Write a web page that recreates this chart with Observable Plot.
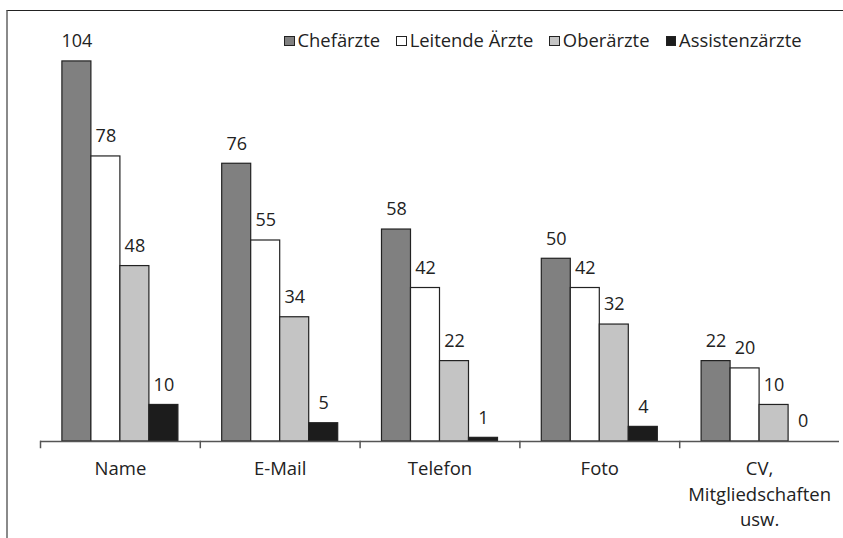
<!DOCTYPE html>
<html><head><meta charset="utf-8">
<script src="https://cdn.jsdelivr.net/npm/d3@7"></script>
<script src="https://cdn.jsdelivr.net/npm/@observablehq/plot@0.6"></script>
<style>
body{margin:0;background:#fff;font-family:"Open Sans",sans-serif;}
#wrap{position:relative;width:843px;height:538px;overflow:hidden;background:#fff}
#border{position:absolute;left:6px;top:10px;right:-5px;bottom:-5px;border-top:1.5px solid #222;border-left:2px solid #8a8a8a;pointer-events:none}
#legend{position:absolute;top:29px;left:284px;display:flex;gap:16px;font-size:18.4px;color:#222;line-height:22px;white-space:nowrap}
#legend .it{display:flex;align-items:center}
#legend .sw{width:8.5px;height:8.5px;border:1.3px solid #222;margin-right:3px;margin-top:2px}
#chart{position:absolute;left:0;top:0}
</style></head>
<body>
<div id="wrap"><div id="chart"></div><div id="border"></div><div id="legend"></div></div>
<script>
const categories = ["Name","E-Mail","Telefon","Foto","CV,\nMitgliedschaften\nusw."];
const series = ["Chefärzte","Leitende Ärzte","Oberärzte","Assistenzärzte"];
const chefaerzte = [104,76,58,50,22];
const leitende = [78,55,42,42,20];
const oberaerzte = [48,34,22,32,10];
const assistenz = [10,5,1,4,0];
const colors = ["#808080","#ffffff","#c4c4c4","#1c1c1c"];

const seriesValues = [chefaerzte, leitende, oberaerzte, assistenz];
const data = [];
categories.forEach((c, i) => series.forEach((s, j) => data.push({cat: c, series: s, value: seriesValues[j][i]})));

const chart = Plot.plot({
  width: 843, height: 538,
  marginLeft: 40, marginRight: 4, marginTop: 39, marginBottom: 91,
  fx: {domain: categories, padding: 0, round: false, label: null},
  x: {domain: series, paddingInner: 0, paddingOuter: 0.755, round: false, axis: null},
  y: {domain: [0, 110], insetBottom: 6, axis: null},
  color: {domain: series, range: colors},
  style: {fontFamily: "Open Sans", fontSize: "18px", color: "#222", background: "transparent"},
  marks: [
    Plot.barY(data, {fx: "cat", x: "series", y: "value", fill: "series", stroke: "#222", strokeWidth: 1.2}),
    Plot.text(data, {fx: "cat", x: "series", y: "value", text: d => String(d.value), dy: -20, fontSize: 18, fill: "#222"}),
    Plot.ruleY([0], {stroke: "#555", strokeWidth: 1.5}),
    Plot.frame({anchor: "left", insetTop: 402, stroke: "#555", strokeWidth: 1.5}),
    Plot.axisFx({anchor: "bottom", tickSize: 0, tickPadding: 10, fontSize: 18.5, lineHeight: 1.36, label: null, fill: "#222"})
  ]
});
document.getElementById("chart").appendChild(chart);

const legend = document.getElementById("legend");
series.forEach((s, j) => {
  const it = document.createElement("div"); it.className = "it";
  const sw = document.createElement("span"); sw.className = "sw"; sw.style.background = colors[j];
  const t = document.createElement("span"); t.textContent = s;
  it.appendChild(sw); it.appendChild(t); legend.appendChild(it);
});
</script>
</body></html>
